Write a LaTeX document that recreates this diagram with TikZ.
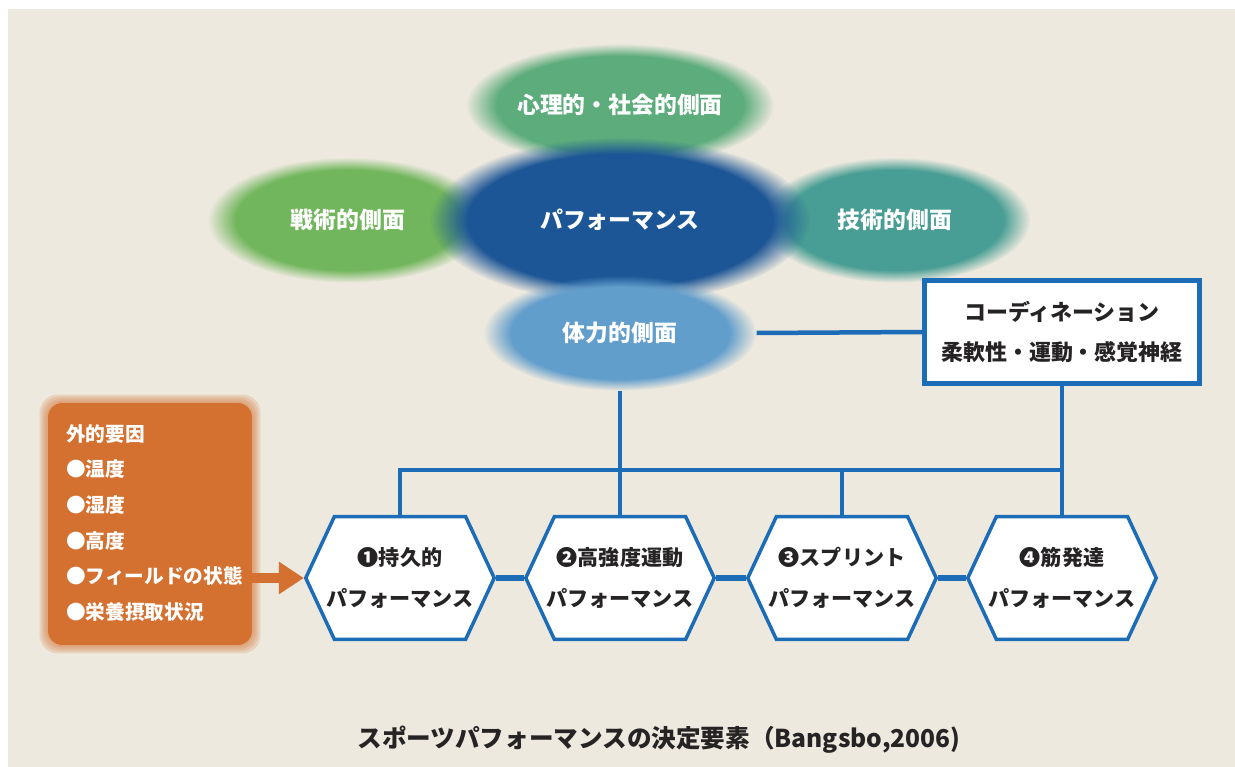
\documentclass[tikz,border=0pt]{standalone}
\usepackage{fontspec}
\setmainfont{Noto Sans CJK JP}
\usetikzlibrary{shapes.geometric,shapes.symbols,fadings,arrows.meta}

\definecolor{bgbeige}{HTML}{EDE9DE}
\definecolor{psygreen}{HTML}{5CAC7C}
\definecolor{tacgreen}{HTML}{71B65C}
\definecolor{tecteal}{HTML}{489E94}
\definecolor{perfblue}{HTML}{1C5696}
\definecolor{bodyblue}{HTML}{629ECC}
\definecolor{lineblue}{HTML}{1C6CB8}
\definecolor{exorange}{HTML}{D47130}
\definecolor{textdark}{HTML}{262324}

\begin{document}
\begin{tikzpicture}[x=0.02cm, y=-0.02cm,
    every node/.style={font=\bfseries},
    blob/.style={ellipse, fill=#1, text=white, path fading=circle with fuzzy edge 20 percent,
      font=\fontsize{13}{15}\selectfont\bfseries},
    hexbox/.style={signal, signal to=west and east, signal pointer angle=130,
      draw=lineblue, line width=0.07cm, fill=white, inner xsep=-0.16cm, minimum height=2.46cm,
      align=center, text=textdark, font=\fontsize{12}{23}\selectfont\bfseries},
    link/.style={draw=lineblue, line width=0.09cm},
    hexlink/.style={draw=lineblue, line width=0.13cm}]

  % Background
  \fill[white] (0,0) rectangle (1235,767);
  \fill[bgbeige] (8,9) rectangle (1235,767);
  \useasboundingbox (0,0) rectangle (1235,767);

  % Aspects
  \node[blob=psygreen, minimum width=5.3cm, minimum height=2.45cm] (psy) at (620,105) {心理的・社会的側面};
  \node[blob=tacgreen, minimum width=5.6cm, minimum height=2.5cm] (tac) at (348,220) {戦術的側面};
  \node[blob=tecteal, minimum width=5.4cm, minimum height=2.5cm] (tec) at (895,220) {技術的側面};
  \node[blob=perfblue, minimum width=7.6cm, minimum height=3.3cm] (perf) at (620,220) {パフォーマンス};
  \node[blob=bodyblue, minimum width=5.45cm, minimum height=2.3cm] (body) at (620,333) {体力的側面};

  % Coordination
  \node[draw=lineblue, line width=0.09cm, fill=white, minimum width=5.5cm, minimum height=2.06cm,
    align=center, text=textdark, font=\fontsize{12.5}{22.8}\selectfont\bfseries] (coord) at (1062,332)
    {コーディネーション\\柔軟性・運動・感覚神経};

  % Performances
  \node[hexbox] (h1) at (400,578) {❶持久的\\パフォーマンス};
  \node[hexbox] (h2) at (620,578) {❷高強度運動\\パフォーマンス};
  \node[hexbox] (h3) at (842,578) {❸スプリント\\パフォーマンス};
  \node[hexbox] (h4) at (1062,578) {❹筋発達\\パフォーマンス};

  % External factors
  \node[fill=exorange, rounded corners=8pt, minimum width=4.08cm, minimum height=4.84cm] (ext) at (150,524) {};
  \foreach \g in {8,6,4,2}
    \fill[exorange, opacity=0.18, rounded corners=10pt] ([shift={(-\g,-\g)}]ext.north west) rectangle ([shift={(\g,\g)}]ext.south east);
  \node[anchor=north west, align=left, text=white, font=\fontsize{11.2}{20.3}\selectfont\bfseries] (extlist) at (60,418)
    {外的要因\\●温度\\●湿度\\●高度\\●フィールドの状態\\●栄養摂取状況};

  % Edges
  \coordinate (bus) at (620,470);
  \draw[link] (body.east) -- (coord.west);
  \draw[link] (body) -- (h2.north);
  \draw[link] (coord) -- (h4.north);
  \draw[link] (h1.north) -- (h1.north |- bus) -- (h4.north |- bus);
  \draw[link] (h3.north) -- (h3.north |- bus);
  \foreach \a/\b in {h1/h2, h2/h3, h3/h4}
    \draw[hexlink] (\a.east) -- (\b.west);
  \draw[exorange, line width=0.2cm, -{Triangle[length=0.5cm, width=0.62cm]}] (ext.east |- h1.west) -- (h1.west);

  % Caption
  \node[text=textdark, font=\fontsize{14}{16}\selectfont\bfseries] (title) at (659,740)
    {スポーツパフォーマンスの決定要素（Bangsbo,2006)};
\end{tikzpicture}
\end{document}
